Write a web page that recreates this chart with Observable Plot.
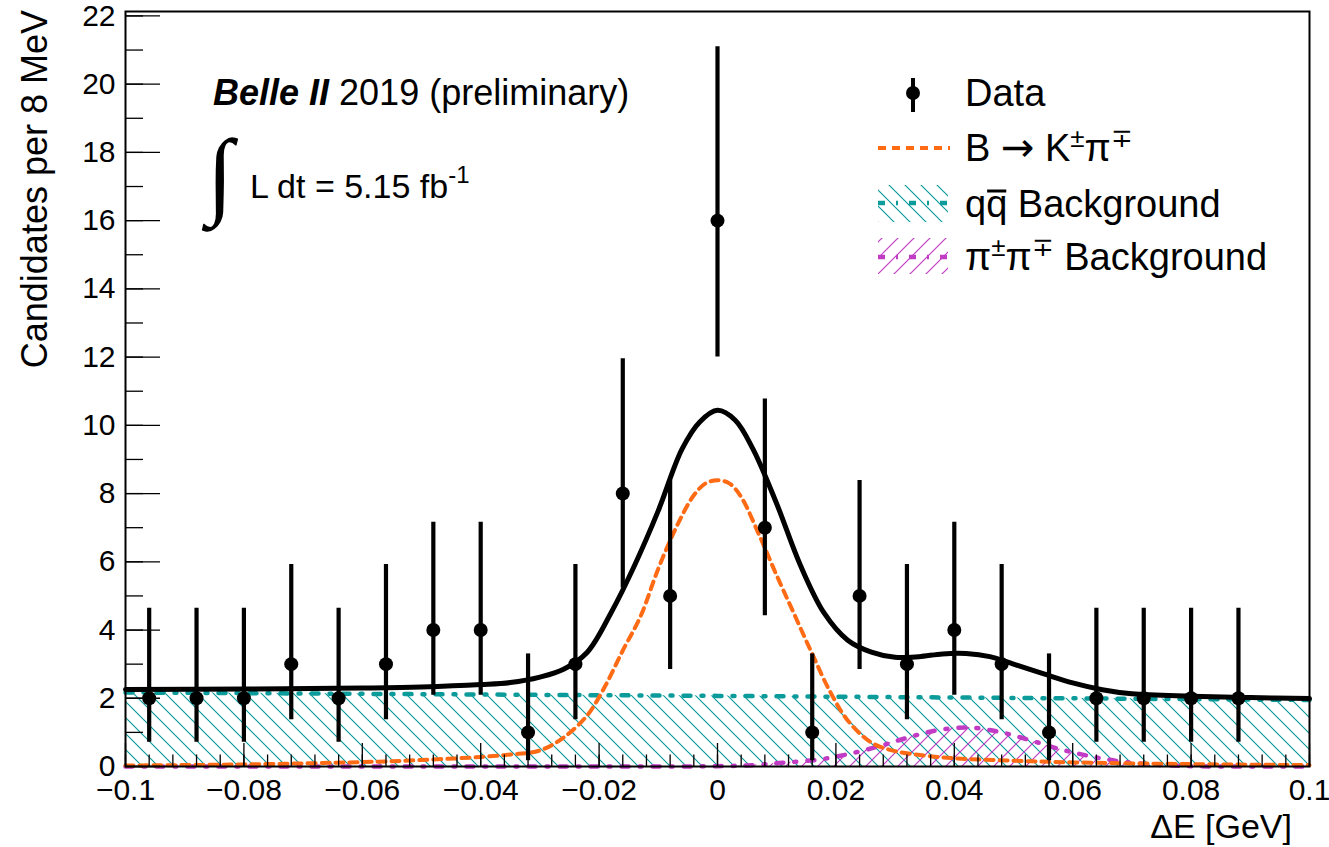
<!DOCTYPE html>
<html><head><meta charset="utf-8">
<script src="https://cdn.jsdelivr.net/npm/d3@7"></script>
<script src="https://cdn.jsdelivr.net/npm/@observablehq/plot@0.6"></script>
<style>
body{margin:0;background:#fff;}
</style></head><body><div id="chart"></div>
<script>
// ---- data ----
const binCenters = [-0.096,-0.088,-0.080,-0.072,-0.064,-0.056,-0.048,-0.040,-0.032,-0.024,-0.016,-0.008,0.000,0.008,0.016,0.024,0.032,0.040,0.048,0.056,0.064,0.072,0.080,0.088];
const counts     = [2,2,2,3,2,3,4,4,1,3,8,5,16,7,1,5,3,4,3,1,2,2,2,2];
const errLow     = [0.71,0.71,0.71,1.37,0.71,1.37,2.09,2.09,0.17,1.37,5.23,2.84,12.0,4.42,0.17,2.84,1.37,2.09,1.37,0.17,0.71,0.71,0.71,0.71];
const errHigh    = [4.64,4.64,4.64,5.92,4.64,5.92,7.16,7.16,3.30,5.92,11.95,8.38,21.1,10.77,3.30,8.38,5.92,7.16,5.92,3.30,4.64,4.64,4.64,4.64];

const totalX = [-0.1,-0.08,-0.06,-0.05,-0.04,-0.035,-0.03,-0.026,-0.022,-0.018,-0.014,-0.01,-0.006,-0.003,0,0.003,0.006,0.01,0.014,0.018,0.022,0.026,0.03,0.034,0.038,0.042,0.046,0.05,0.055,0.06,0.065,0.07,0.08,0.09,0.1];
const totalY = [2.26,2.27,2.3,2.33,2.4,2.46,2.62,2.85,3.35,4.5,5.9,7.5,9.3,10.1,10.44,10.15,9.3,7.7,5.9,4.5,3.7,3.35,3.2,3.22,3.3,3.31,3.22,3.0,2.72,2.45,2.25,2.13,2.06,2.02,1.99];

const sigX = [-0.1,-0.08,-0.06,-0.05,-0.04,-0.035,-0.03,-0.026,-0.022,-0.019,-0.016,-0.013,-0.01,-0.007,-0.004,-0.002,0,0.002,0.004,0.007,0.01,0.013,0.016,0.019,0.022,0.026,0.03,0.035,0.04,0.05,0.06,0.08,0.1];
const sigY = [0.03,0.06,0.13,0.19,0.28,0.35,0.47,0.85,1.5,2.35,3.4,4.4,5.8,7.0,7.95,8.3,8.39,8.3,7.9,6.8,5.6,4.45,3.3,2.2,1.35,0.7,0.45,0.32,0.24,0.17,0.12,0.07,0.04];

const qqX = [-0.1,-0.05,0,0.05,0.1];
const qqY = [2.17,2.12,2.07,2.01,1.95];

const ppX = [-0.1,-0.05,0,0.006,0.011,0.017,0.022,0.027,0.032,0.037,0.0425,0.048,0.053,0.058,0.063,0.068,0.074,0.08,0.1];
const ppY = [0,0,0.01,0.04,0.11,0.2,0.36,0.58,0.84,1.06,1.14,1.0,0.76,0.5,0.3,0.15,0.05,0.01,0];

const xTicks = [-0.1,-0.08,-0.06,-0.04,-0.02,0,0.02,0.04,0.06,0.08,0.1];
const xTickLabels = ["\u22120.1","\u22120.08","\u22120.06","\u22120.04","\u22120.02","0","0.02","0.04","0.06","0.08","0.1"];
const yTicks = [0,2,4,6,8,10,12,14,16,18,20,22];
const yTickLabels = ["0","2","4","6","8","10","12","14","16","18","20","22"];

// ---- build tables ----
const data = binCenters.map((x,i)=>({x, n:counts[i], lo:errLow[i], hi:errHigh[i]}));
const total = totalX.map((x,i)=>({x, y:totalY[i]}));
const sig = sigX.map((x,i)=>({x, y:sigY[i]}));
const qq = qqX.map((x,i)=>({x, y:qqY[i]}));
const pp = ppX.map((x,i)=>({x, y:ppY[i]}));
const xMinor = d3.range(-0.1, 0.1001, 0.004).map(v=>+v.toFixed(4));
const yMinor = d3.range(0, 22.5, 1);
const xLab = new Map(xTicks.map((t,i)=>[t,xTickLabels[i]]));
const yLab = new Map(yTicks.map((t,i)=>[t,yTickLabels[i]]));

const TEAL = "#0b9b9b", MAG = "#c23bc4", ORANGE = "#ff6a14";
const DASHDOT = "7,11,2,11";

const plot = Plot.plot({
  width: 1329, height: 847,
  marginLeft: 125, marginRight: 20, marginTop: 11, marginBottom: 81,
  style: {fontFamily: "'Liberation Sans', Arial, sans-serif", fontSize: "30px", color: "black", background: "white"},
  x: {domain: [-0.1, 0.1], ticks: xTicks, tickFormat: d => xLab.get(d), tickSize: 0, tickPadding: 12, label: null},
  y: {domain: [0, 22.13], ticks: yTicks, tickFormat: d => yLab.get(d), tickSize: 0, tickPadding: 10, label: null},
  marks: [
    Plot.areaY(qq, {x: "x", y: "y", fill: "url(#hatchTeal)", curve: "linear"}),
    Plot.areaY(pp, {x: "x", y: "y", fill: "url(#hatchMag)", curve: "catmull-rom"}),
    Plot.line(pp, {x: "x", y: "y", stroke: MAG, strokeWidth: 4.5, strokeDasharray: DASHDOT, curve: "catmull-rom"}),
    Plot.line(qq, {x: "x", y: "y", stroke: TEAL, strokeWidth: 4.5, strokeDasharray: DASHDOT, curve: "linear"}),
    Plot.line(sig, {x: "x", y: "y", stroke: ORANGE, strokeWidth: 4, strokeDasharray: "8,6", curve: "catmull-rom"}),
    Plot.line(total, {x: "x", y: "y", stroke: "black", strokeWidth: 5, curve: "catmull-rom"}),
    Plot.ruleX(data, {x: "x", y1: "lo", y2: "hi", stroke: "black", strokeWidth: 4.2}),
    Plot.dot(data, {x: "x", y: "n", r: 7, fill: "black", stroke: null}),
    // inside ticks
    Plot.ruleX(xMinor, {x: d => d, y1: 0, y2: 0, insetTop: -11.5, stroke: "black", strokeWidth: 1.3}),
    Plot.ruleX(xTicks, {x: d => d, y1: 0, y2: 0, insetTop: -23, stroke: "black", strokeWidth: 1.3}),
    Plot.ruleY(yMinor, {y: d => d, x1: -0.1, x2: -0.1, insetRight: -18, stroke: "black", strokeWidth: 1.3}),
    Plot.ruleY(yTicks, {y: d => d, x1: -0.1, x2: -0.1, insetRight: -35, stroke: "black", strokeWidth: 1.3}),
    Plot.frame({stroke: "black", strokeWidth: 2})
  ]
});
document.getElementById("chart").appendChild(plot);

// ---- patterns & annotations ----
const svg = d3.select(plot);
const defs = svg.insert("defs", ":first-child");
const pT = defs.append("pattern").attr("id","hatchTeal").attr("patternUnits","userSpaceOnUse").attr("width",16).attr("height",16);
pT.append("path").attr("d","M-4,-4L20,20M-4,12L4,20M12,-4L20,4").attr("stroke",TEAL).attr("stroke-width",1.2).attr("fill","none");
const pM = defs.append("pattern").attr("id","hatchMag").attr("patternUnits","userSpaceOnUse").attr("width",16).attr("height",16);
pM.append("path").attr("d","M-4,20L20,-4M-4,4L4,-4M12,20L20,12").attr("stroke",MAG).attr("stroke-width",1.2).attr("fill","none");

const ann = svg.append("g").attr("font-family","'Liberation Sans', Arial, sans-serif").attr("fill","black").attr("text-anchor","start");
// axis titles
ann.append("text").attr("x",1292).attr("y",838).attr("text-anchor","end").attr("font-size",34).text("\u0394E [GeV]");
ann.append("text").attr("transform","translate(47,10) rotate(-90)").attr("text-anchor","end").attr("font-size",36).text("Candidates per 8 MeV");
// Belle II label
const t1 = ann.append("text").attr("x",213).attr("y",105).attr("font-size",36);
t1.append("tspan").attr("font-weight","bold").attr("font-style","italic").text("Belle II");
t1.append("tspan").text(" 2019 (preliminary)");
ann.append("text").attr("x",207).attr("y",206).attr("font-size",96).attr("font-family","'Liberation Serif', serif").text("\u222B");
const t2 = ann.append("text").attr("x",250).attr("y",198).attr("font-size",34);
t2.append("tspan").text("L dt = 5.15 fb");
t2.append("tspan").attr("font-size",24).attr("dy",-15).text("-1");

// legend
const lg = svg.append("g").attr("font-family","'Liberation Sans', Arial, sans-serif").attr("font-size",38).attr("fill","black").attr("text-anchor","start");
lg.append("line").attr("x1",913).attr("x2",913).attr("y1",78).attr("y2",112).attr("stroke","black").attr("stroke-width",4);
lg.append("circle").attr("cx",913).attr("cy",93).attr("r",7).attr("fill","black");
lg.append("text").attr("x",965).attr("y",106).text("Data");

lg.append("line").attr("x1",878).attr("x2",950).attr("y1",148).attr("y2",148).attr("stroke",ORANGE).attr("stroke-width",4).attr("stroke-dasharray","8,6");
const lt2 = lg.append("text").attr("x",965).attr("y",161);
lt2.append("tspan").text("B ");
lt2.append("tspan").attr("font-family","'DejaVu Sans', sans-serif").attr("font-size",40).text("\u2192");
lt2.append("tspan").text(" K");
lt2.append("tspan").attr("font-size",26).attr("dy",-14).text("\u00B1");
lt2.append("tspan").attr("dy",14).text("\u03C0");
lt2.append("tspan").attr("font-size",26).attr("dy",-14).text("\u2213");

lg.append("rect").attr("x",878).attr("y",185).attr("width",70).attr("height",37).attr("fill","url(#hatchTeal)");
lg.append("line").attr("x1",878).attr("x2",950).attr("y1",203).attr("y2",203).attr("stroke",TEAL).attr("stroke-width",4.5).attr("stroke-dasharray",DASHDOT);
const lt3 = lg.append("text").attr("x",965).attr("y",217).text("qq Background");
// bar over the second q
const ext = lt3.node().getExtentOfChar(1);
lg.append("line").attr("x1",ext.x + 1).attr("x2",ext.x + ext.width - 1).attr("y1",191).attr("y2",191).attr("stroke","black").attr("stroke-width",3);

lg.append("rect").attr("x",878).attr("y",238).attr("width",70).attr("height",36).attr("fill","url(#hatchMag)");
lg.append("line").attr("x1",878).attr("x2",950).attr("y1",257).attr("y2",257).attr("stroke",MAG).attr("stroke-width",4.5).attr("stroke-dasharray",DASHDOT);
const lt4 = lg.append("text").attr("x",965).attr("y",270);
lt4.append("tspan").text("\u03C0");
lt4.append("tspan").attr("font-size",26).attr("dy",-14).text("\u00B1");
lt4.append("tspan").attr("dy",14).text("\u03C0");
lt4.append("tspan").attr("font-size",26).attr("dy",-14).text("\u2213");
lt4.append("tspan").attr("dy",14).text(" Background");
</script></body></html>
